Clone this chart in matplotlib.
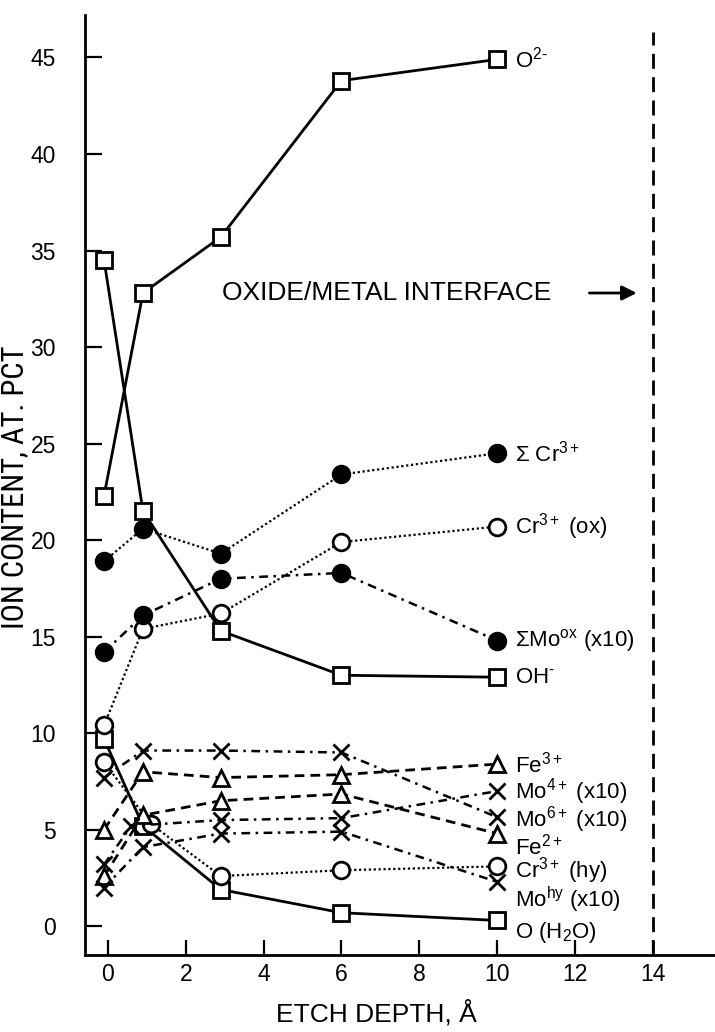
import matplotlib
matplotlib.use("Agg")
import matplotlib.pyplot as plt
from matplotlib import font_manager

# ---------------- data ----------------
etch = [-0.1, 0.9, 2.9, 6.0, 10.0]
etch_cr_hy = [-0.1, 1.1, 2.9, 6.0, 10.0]
etch_mo4 = [-0.1, 0.6, 2.9, 6.0, 10.0]

o2 = [22.3, 32.8, 35.7, 43.8, 44.9]
oh = [34.5, 21.5, 15.3, 13.0, 12.9]
o_h2o = [9.7, 5.2, 1.9, 0.7, 0.3]
sum_cr3 = [18.9, 20.6, 19.3, 23.4, 24.5]
cr3_ox = [10.4, 15.4, 16.2, 19.9, 20.7]
sum_mo_ox = [14.2, 16.1, 18.0, 18.3, 14.8]
cr3_hy = [8.5, 5.3, 2.6, 2.9, 3.1]
fe3 = [5.0, 8.0, 7.7, 7.85, 8.4]
fe2 = [2.6, 5.75, 6.5, 6.85, 4.8]
mo6 = [7.7, 9.1, 9.1, 9.0, 5.65]
mo4 = [3.2, 5.2, 5.5, 5.6, 7.0]
mo_hy = [2.0, 4.1, 4.8, 4.9, 2.3]

x_ticks = [0, 2, 4, 6, 8, 10, 12, 14]
y_ticks = [0, 5, 10, 15, 20, 25, 30, 35, 40, 45]
interface_x = 14

# ---------------- style ----------------
plt.rcParams['font.family'] = ['Liberation Sans', 'DejaVu Sans']
plt.rcParams['mathtext.fontset'] = 'custom'
plt.rcParams['mathtext.rm'] = 'Liberation Sans'
plt.rcParams['mathtext.it'] = 'Liberation Sans:italic'
plt.rcParams['mathtext.bf'] = 'Liberation Sans:bold'
plt.rcParams['mathtext.default'] = 'regular'

names = {f.name for f in font_manager.fontManager.ttflist}
narrow = None
for cand in ['Liberation Sans Narrow', 'DejaVu Sans Condensed', 'Roboto Condensed', 'Open Sans Condensed']:
    if cand in names:
        narrow = cand
        break

fig = plt.figure(figsize=(7.15, 10.32), dpi=100)
ax = fig.add_axes([85 / 715, 77 / 1032, 630 / 715, 940 / 1032])

ax.set_xlim(-0.59, 15.6)
ax.set_ylim(-1.49, 47.2)

for s in ['top', 'right']:
    ax.spines[s].set_visible(False)
for s in ['left', 'bottom']:
    ax.spines[s].set_linewidth(2)

ax.set_xticks(x_ticks)
ax.set_yticks(y_ticks)
ax.tick_params(axis='y', direction='in', length=12, width=1.6, pad=21, labelsize=16.5)
ax.tick_params(axis='x', direction='in', length=11, width=1.6, pad=6, labelsize=16.5)

ms = 12
mew = 2
solid = dict(ls='-', lw=2)
dotted = dict(ls=(0, (1, 1.2)), lw=1.6)
dashed = dict(ls=(0, (3.5, 2.2)), lw=2)
dashdot = dict(ls=(0, (3.5, 2.2, 1, 2.2)), lw=1.8)

def series(x, y, marker, style, filled=False, size=ms):
    ax.plot(x, y, color='k', marker=marker, ms=size, mew=mew,
            mfc='k' if filled else 'white', mec='k', zorder=3, **style)

series(etch, o2, 's', solid)
series(etch, oh, 's', solid)
series(etch, o_h2o, 's', solid)
series(etch, sum_cr3, 'o', dotted, filled=True)
series(etch, cr3_ox, 'o', dotted)
series(etch, sum_mo_ox, 'o', dashdot, filled=True)
series(etch_cr_hy, cr3_hy, 'o', dotted)
series(etch, fe3, '^', dashed)
series(etch, fe2, '^', dashed)
series(etch, mo6, 'x', dashdot)
series(etch_mo4, mo4, 'x', dashdot)
series(etch, mo_hy, 'x', dashdot)

# end labels
labels = [
    (o2, r'O$^{2\text{-}}$', 0),
    (sum_cr3, r'Σ Cr$^{3+}$', 0),
    (cr3_ox, r'Cr$^{3+}$ (ox)', 0),
    (sum_mo_ox, r'ΣMo$^{ox}$ (x10)', 0),
    (oh, r'OH$^{\text{-}}$', 0),
    (fe3, r'Fe$^{3+}$', 0),
    (mo4, r'Mo$^{4+}$ (x10)', 0),
    (mo6, r'Mo$^{6+}$ (x10)', -2),
    (fe2, r'Fe$^{2+}$', -9),
    (cr3_hy, r'Cr$^{3+}$ (hy)', -3),
    (mo_hy, r'Mo$^{hy}$ (x10)', -13),
    (o_h2o, r'O (H$_2$O)', -9),
]
for vals, txt, dy in labels:
    ax.annotate(txt, xy=(etch[-1], vals[-1]), xytext=(13, dy),
                textcoords='offset points', ha='left', va='center',
                fontsize=16)

# interface line and note
ax.vlines(interface_x, -1.49, 46.3, colors='k', linestyles=(0, (5.4, 3)), lw=2)
ax.text(2.93, 32.8, 'OXIDE/METAL INTERFACE', fontsize=19, va='center', ha='left')
ax.annotate('', xy=(13.66, 32.8), xytext=(12.3, 32.8),
            arrowprops=dict(arrowstyle='-|>', lw=2, color='k', mutation_scale=22))

ax.set_xlabel('ETCH DEPTH, Å', fontsize=19)
if narrow:
    ax.set_ylabel('ION CONTENT, AT. PCT', fontsize=22, family=narrow)
else:
    ax.set_ylabel('ION CONTENT, AT. PCT', fontsize=18.5)
ax.yaxis.set_label_coords(-0.089, 0.498)
ax.xaxis.set_label_coords((376 - 85) / 630, -(1000 - 955) / 940)

fig.savefig('out.png', dpi=100)
